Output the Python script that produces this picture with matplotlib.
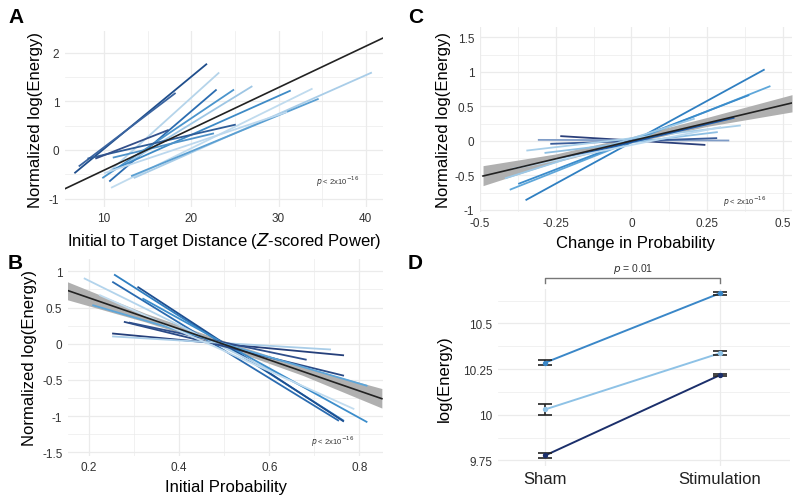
import matplotlib.pyplot as plt
import numpy as np

plt.rcParams['font.family'] = ['Liberation Sans', 'DejaVu Sans']
plt.rcParams['xtick.minor.size'] = 0
plt.rcParams['ytick.minor.size'] = 0
plt.rcParams['xtick.major.size'] = 0
plt.rcParams['ytick.major.size'] = 0

# ---- panel A: initial-to-target distance ----
a_x0 = [6.6, 7.1, 10.4, 10.6, 9.8, 12.3, 11.0, 10.8, 13.4, 13.1, 8.1, 9.0, 11.0, 10.0]
a_y0 = [-0.48, -0.34, -0.48, -0.65, -0.58, -0.31, -0.41, -0.78, -0.58, -0.54, -0.18, -0.18, -0.16, -0.48]
a_x1 = [21.8, 18.2, 23.2, 22.9, 24.9, 27.0, 31.4, 33.9, 40.7, 34.6, 25.1, 17.4, 22.6, 31.0]
a_y1 = [1.77, 1.17, 1.59, 1.24, 1.24, 1.31, 1.22, 1.26, 1.59, 1.05, 0.52, 0.41, 0.34, 0.78]
a_col = ['#1f4e8c', '#3a64a0', '#b5d4ea', '#2b6cb0', '#4a94cc', '#9ec6e4', '#3d8ac6',
         '#c0dbee', '#a9cde8', '#5a9fd2', '#2f5d98', '#34508a', '#4f93c9', '#bcd8ee']
a_fit_x = [5.5, 42.0]
a_fit_y = [-0.8, 2.3]

# ---- panel B: initial probability ----
b_x0 = [0.257, 0.253, 0.309, 0.190, 0.320, 0.279, 0.253, 0.253, 0.290, 0.209, 0.224]
b_y0 = [0.95, 0.85, 0.78, 0.90, 0.62, 0.30, 0.14, 0.10, 0.29, 0.53, 0.67]
b_x1 = [0.764, 0.753, 0.764, 0.713, 0.816, 0.764, 0.764, 0.735, 0.681, 0.816, 0.787]
b_y1 = [-1.06, -1.06, -1.07, -0.71, -1.08, -0.44, -0.16, -0.08, -0.22, -0.58, -0.90]
b_col = ['#2f7fc1', '#2a6bb0', '#1d4f91', '#b3d4ec', '#3c8dcb', '#2a4a86',
         '#253f7a', '#a9cde8', '#2f4f8c', '#5da6da', '#c2dcef']
b_fit_x = [0.15, 0.85]
b_fit_y = [0.74, -0.76]
b_band_x = [0.15, 0.325, 0.5, 0.675, 0.85]
b_band_lo = [0.61, 0.30, -0.05, -0.44, -0.89]
b_band_hi = [0.86, 0.42, 0.04, -0.32, -0.62]

# ---- panel C: change in probability ----
c_x0 = [-0.347, -0.399, -0.371, -0.232, -0.306, -0.265, -0.344, -0.284, -0.415, -0.230, -0.393]
c_y0 = [-0.855, -0.705, -0.62, 0.068, 0.014, -0.043, -0.14, -0.174, -0.541, -0.26, -0.406]
c_x1 = [0.437, 0.456, 0.386, 0.241, 0.320, 0.280, 0.358, 0.282, 0.206, 0.337, 0.293]
c_y1 = [1.03, 0.79, 0.66, -0.058, 0.005, 0.039, 0.222, 0.126, 0.319, 0.333, 0.198]
c_col = ['#2f7fc1', '#5ea7da', '#3b8ccb', '#2b3f7a', '#7f9cc7', '#3a5c99',
         '#a9cfe9', '#8fc0e3', '#9cc9e8', '#1f5aa6', '#bcdaf0']
c_fit_x = [-0.49, 0.53]
c_fit_y = [-0.51, 0.55]
c_band_x = [-0.49, -0.25, 0.0, 0.25, 0.53]
c_band_lo = [-0.65, -0.31, -0.03, 0.21, 0.42]
c_band_hi = [-0.36, -0.19, 0.06, 0.34, 0.67]

# ---- panel D: sham vs stimulation ----
d_groups = ['Sham', 'Stimulation']
d_means = [[10.285, 10.665], [10.029, 10.337], [9.777, 10.217]]
d_errs = [[0.015, 0.008], [0.032, 0.012], [0.013, 0.006]]
d_col = ['#3a87c8', '#8ec2e6', '#1b2f6b']

grid_c = '#ebebeb'
tick_c = '#333333'

fig = plt.figure(figsize=(8, 5.02), dpi=100)
fig.patch.set_facecolor('white')


def style(ax):
    for s in ax.spines.values():
        s.set_visible(False)
    ax.tick_params(which='both', length=0, labelsize=8.5, labelcolor=tick_c, pad=4)
    ax.grid(True, which='major', color=grid_c, lw=0.9)
    ax.grid(True, which='minor', color=grid_c, lw=0.5)
    ax.set_axisbelow(True)


# A
ax = fig.add_axes([0.081, 0.586, 0.398, 0.351])
style(ax)
for x0, y0, x1, y1, c in zip(a_x0, a_y0, a_x1, a_y1, a_col):
    ax.plot([x0, x1], [y0, y1], color=c, lw=1.3, solid_capstyle='butt')
ax.plot(a_fit_x, a_fit_y, color='#222222', lw=1.2, zorder=5)
ax.set_xlim(5.5, 42)
ax.set_ylim(-1.17, 2.45)
ax.set_xticks([10, 20, 30, 40])
ax.set_xticks([15, 25, 35], minor=True)
ax.set_yticks([-1, 0, 1, 2])
ax.set_yticklabels(['-1', '0', '1', '2'])
ax.set_yticks([-0.5, 0.5, 1.5], minor=True)
ax.tick_params(which='both', length=0)
ax.set_xlabel('Initial to Target Distance ($Z$-scored Power)', fontsize=12)
ax.set_ylabel('Normalized log(Energy)', fontsize=12, labelpad=4)
ax.text(0.79, 0.13, r'$p$ < 2x10$^{-16}$', transform=ax.transAxes, fontsize=5.5, color='#333333')
fig.text(0.01, 0.955, 'A', fontsize=15, fontweight='bold')

# C
ax = fig.add_axes([0.6, 0.576, 0.39, 0.368])
style(ax)
ax.fill_between(c_band_x, c_band_lo, c_band_hi, color='#b0b0b0', lw=0, zorder=2)
for x0, y0, x1, y1, c in zip(c_x0, c_y0, c_x1, c_y1, c_col):
    ax.plot([x0, x1], [y0, y1], color=c, lw=1.3, zorder=3)
ax.plot(c_fit_x, c_fit_y, color='#222222', lw=1.2, zorder=5)
ax.set_xlim(-0.49, 0.53)
ax.set_ylim(-1.03, 1.65)
ax.set_xticks([-0.5, -0.25, 0, 0.25, 0.5])
ax.set_xticklabels(['-0.5', '-0.25', '0', '0.25', '0.5'])
ax.set_xticks([-0.375, -0.125, 0.125, 0.375], minor=True)
ax.set_yticks([-1, -0.5, 0, 0.5, 1, 1.5])
ax.set_yticklabels(['-1', '-0.5', '0', '0.5', '1', '1.5'])
ax.set_yticks([-0.75, -0.25, 0.25, 0.75, 1.25], minor=True)
ax.tick_params(which='both', length=0)
ax.set_xlabel('Change in Probability', fontsize=12)
ax.set_ylabel('Normalized log(Energy)', fontsize=12, labelpad=2)
ax.text(0.78, 0.04, r'$p$ < 2x10$^{-16}$', transform=ax.transAxes, fontsize=5.5, color='#333333')
fig.text(0.51, 0.955, 'C', fontsize=15, fontweight='bold')

# B
ax = fig.add_axes([0.085, 0.09, 0.394, 0.392])
style(ax)
ax.fill_between(b_band_x, b_band_lo, b_band_hi, color='#b0b0b0', lw=0, zorder=2)
for x0, y0, x1, y1, c in zip(b_x0, b_y0, b_x1, b_y1, b_col):
    ax.plot([x0, x1], [y0, y1], color=c, lw=1.3, zorder=3)
ax.plot(b_fit_x, b_fit_y, color='#222222', lw=1.2, zorder=5)
ax.set_xlim(0.153, 0.853)
ax.set_ylim(-1.55, 1.17)
ax.set_xticks([0.2, 0.4, 0.6, 0.8])
ax.set_xticks([0.3, 0.5, 0.7], minor=True)
ax.set_yticks([-1.5, -1, -0.5, 0, 0.5, 1])
ax.set_yticklabels(['-1.5', '-1', '-0.5', '0', '0.5', '1'])
ax.set_yticks([-1.25, -0.75, -0.25, 0.25, 0.75], minor=True)
ax.tick_params(which='both', length=0)
ax.set_xlabel('Initial Probability', fontsize=12)
ax.set_ylabel('Normalized log(Energy)', fontsize=12, labelpad=4)
ax.text(0.77, 0.06, r'$p$ < 2x10$^{-16}$', transform=ax.transAxes, fontsize=5.5, color='#333333')
fig.text(0.01, 0.465, 'B', fontsize=15, fontweight='bold')

# D
ax = fig.add_axes([0.6225, 0.07, 0.365, 0.353])
style(ax)
xs = np.arange(len(d_groups))
for m, e, c in zip(d_means, d_errs, d_col):
    ax.plot(xs, m, color=c, lw=1.4, zorder=3)
    ax.errorbar(xs, m, yerr=e, fmt='none', ecolor='#222222', elinewidth=1.2,
                capsize=5, capthick=1.2, zorder=4)
    ax.scatter(xs, m, color=c, s=8, zorder=5)
ax.set_xlim(-0.27, 1.4)
ax.set_ylim(9.72, 10.69)
ax.set_xticks(xs)
ax.set_xticklabels(d_groups, fontsize=12, color='#222222')
ax.set_yticks([9.75, 10, 10.25, 10.5])
ax.set_yticklabels(['9.75', '10', '10.25', '10.5'])
ax.set_yticks([9.875, 10.125, 10.375, 10.625], minor=True)
ax.tick_params(which='both', length=0)
ax.set_ylabel('log(Energy)', fontsize=12, labelpad=8)
ax.plot([0, 0, 1, 1], [10.72, 10.75, 10.75, 10.72], color='#777777', lw=1, clip_on=False)
ax.text(0.5, 10.765, r'$p$ = 0.01', ha='center', va='bottom', fontsize=7.5, color='#333333')
fig.text(0.51, 0.465, 'D', fontsize=15, fontweight='bold')

plt.savefig('out.png', dpi=100, facecolor='white')
plt.close(fig)
